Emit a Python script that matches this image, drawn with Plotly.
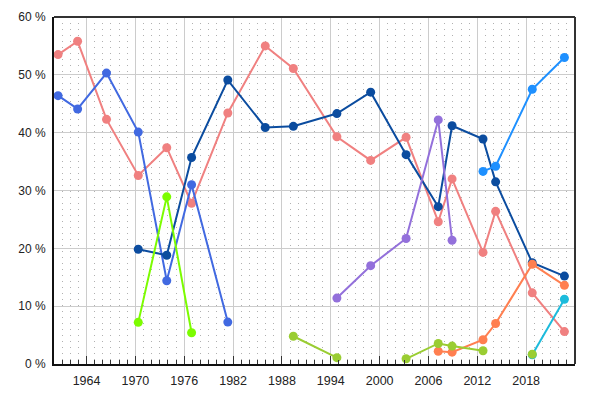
import plotly.graph_objects as go

years = [1960.5, 1962.9, 1966.45, 1970.35, 1973.85, 1976.9, 1981.35, 1985.95, 1989.4,
         1994.75, 1998.9, 2003.25, 2007.2, 2008.9, 2012.7, 2014.25, 2018.75, 2022.7]

N = None
salmon = [53.5, 55.8, 42.3, 32.6, 37.4, 27.8, 43.4, 55.0, 51.1, 39.3, 35.2, 39.2, 24.6, 32.0, 19.3, 26.4, 12.3, 5.6]
royal = [46.4, 44.1, 50.3, 40.1, 14.4, 31.0, 7.25, N, N, N, N, N, N, N, N, N, N, N]
navy = [N, N, N, 19.85, 18.8, 35.7, 49.1, 40.9, 41.1, 43.3, 47.0, 36.2, 27.2, 41.2, 38.9, 31.5, 17.5, 15.2]
lawn = [N, N, N, 7.2, 28.9, 5.4, N, N, N, N, N, N, N, N, N, N, N, N]
purple = [N, N, N, N, N, N, N, N, N, 11.4, 17.0, 21.7, 42.2, 21.4, N, N, N, N]
dodger = [N, N, N, N, N, N, N, N, N, N, N, N, N, N, 33.3, 34.2, 47.5, 53.0]
coral = [N, N, N, N, N, N, N, N, N, N, N, N, 2.2, 2.05, 4.2, 7.0, 17.25, 13.6]
cyan = [N, N, N, N, N, N, N, N, N, N, N, N, N, N, N, N, 1.6, 11.2]
ygreen = [N, N, N, N, N, N, N, N, 4.8, 1.1, N, 0.9, 3.55, 3.1, 2.3, N, 1.7, N]

x_ticks = [1964, 1970, 1976, 1982, 1988, 1994, 2000, 2006, 2012, 2018]

series = [
    (salmon, "#F08080"),
    (royal, "#4169E1"),
    (navy, "#0B4C9F"),
    (lawn, "#7CFC00"),
    (purple, "#9370DB"),
    (dodger, "#1E90FF"),
    (coral, "#FF7F50"),
    (cyan, "#1CBBDC"),
    (ygreen, "#9ACD32"),
]

fig = go.Figure()
for vals, col in series:
    fig.add_trace(go.Scatter(
        x=years, y=vals, mode="lines+markers",
        line=dict(color=col, width=2),
        marker=dict(color=col, size=9),
        connectgaps=False, showlegend=False, hoverinfo="skip",
    ))

fig.update_layout(
    width=592, height=392,
    margin=dict(l=46, r=25, t=9, b=36, autoexpand=False),
    paper_bgcolor="white", plot_bgcolor="white",
    font=dict(family="Liberation Sans, Arial, sans-serif", size=12, color="#222"),
)
fig.update_xaxes(
    range=[1960, 2024], tickmode="array", tickvals=x_ticks, automargin=False,
    showgrid=True, gridcolor="#cccccc", gridwidth=1,
    ticks="inside", ticklen=8, tickwidth=1, tickcolor="#333",
    showline=True, linecolor="#111", linewidth=2, mirror=False,
    minor=dict(dtick=1, tick0=1960, ticks="inside", ticklen=4, tickcolor="#333",
               showgrid=True, gridcolor="#b0b0b0", griddash="1px,5px", gridwidth=1),
    zeroline=False, ticklabelstandoff=4, tickfont=dict(size=12.5),
)
fig.update_yaxes(
    range=[0, 60], dtick=10, ticksuffix=" %", automargin=False,
    showgrid=True, gridcolor="#cccccc", gridwidth=1,
    ticks="", showline=True, linecolor="#111", linewidth=2,
    zeroline=False, ticklabelstandoff=4,
)
# top and right borders
fig.add_shape(type="line", xref="paper", yref="paper", x0=0, x1=1, y0=1, y1=1,
              line=dict(color="#333", width=2))
fig.add_shape(type="line", xref="paper", yref="paper", x0=1, x1=1, y0=0, y1=1,
              line=dict(color="#333", width=2))

fig.write_html("out.html")
